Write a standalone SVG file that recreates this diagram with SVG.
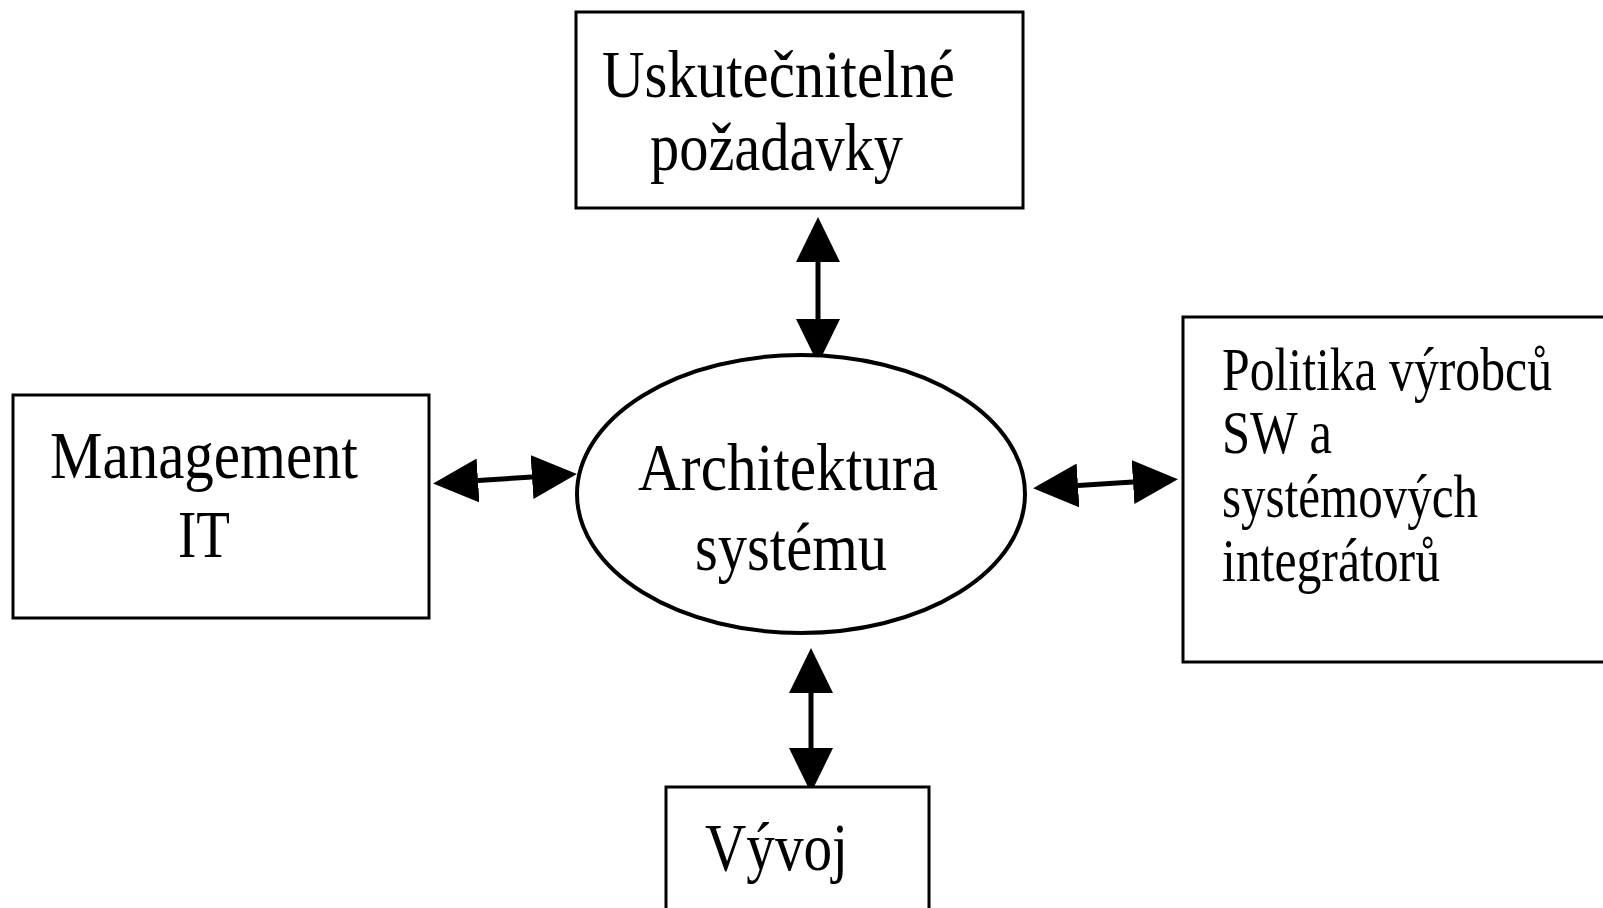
<svg xmlns="http://www.w3.org/2000/svg" width="1603" height="908" viewBox="0 0 1603 908">
  <style>
    .box { fill: #fff; stroke: #000; stroke-width: 3; }
    .oval { fill: #fff; stroke: #000; stroke-width: 4; }
    .lbl { font-family: "Liberation Serif", "Times New Roman", serif; font-size: 67px; fill: #000; }
    .lbl.sm { font-size: 62px; }
    .link { stroke: #000; stroke-width: 5; fill: none; marker-start: url(#head); marker-end: url(#head); }
  </style>
  <defs>
    <marker id="head" viewBox="0 0 45 44" refX="0" refY="22" markerWidth="45" markerHeight="44" markerUnits="userSpaceOnUse" orient="auto-start-reverse">
      <path d="M0,0 L45,22 L0,44 Z" fill="#000"/>
    </marker>
  </defs>
  <rect width="1603" height="908" fill="#fff"/>

  <!-- two-way links around the central oval -->
  <g id="connectors">
    <line class="link" x1="818" y1="262" x2="818" y2="319"/>
    <line class="link" x1="811" y1="693" x2="811" y2="748"/>
    <line class="link" x1="478" y1="480.5" x2="532" y2="477"/>
    <line class="link" x1="1078" y1="485.5" x2="1133" y2="482"/>
  </g>

  <g id="uskutecnitelne-pozadavky">
    <rect class="box" x="576" y="12" width="447" height="196"/>
    <text class="lbl" x="602" y="97" textLength="353" lengthAdjust="spacingAndGlyphs">Uskutečnitelné</text>
    <text class="lbl" x="650" y="170" textLength="253" lengthAdjust="spacingAndGlyphs">požadavky</text>
  </g>

  <g id="management-it">
    <rect class="box" x="13" y="395" width="416" height="223"/>
    <text class="lbl" x="50" y="478" textLength="308" lengthAdjust="spacingAndGlyphs">Management</text>
    <text class="lbl" x="178" y="557" textLength="52" lengthAdjust="spacingAndGlyphs">IT</text>
  </g>

  <g id="architektura-systemu">
    <ellipse class="oval" cx="801" cy="494" rx="224" ry="139"/>
    <text class="lbl" x="638" y="490" textLength="300" lengthAdjust="spacingAndGlyphs">Architektura</text>
    <text class="lbl" x="695" y="570" textLength="192" lengthAdjust="spacingAndGlyphs">systému</text>
  </g>

  <g id="politika-vyrobcu">
    <rect class="box" x="1183" y="317" width="430" height="345"/>
    <text class="lbl sm" x="1222" y="390" textLength="330" lengthAdjust="spacingAndGlyphs">Politika výrobců</text>
    <text class="lbl sm" x="1222" y="453" textLength="110" lengthAdjust="spacingAndGlyphs">SW a</text>
    <text class="lbl sm" x="1222" y="517" textLength="256" lengthAdjust="spacingAndGlyphs">systémových</text>
    <text class="lbl sm" x="1222" y="581" textLength="218" lengthAdjust="spacingAndGlyphs">integrátorů</text>
  </g>

  <g id="vyvoj">
    <rect class="box" x="666" y="787" width="263" height="140"/>
    <text class="lbl" x="705" y="870" textLength="143" lengthAdjust="spacingAndGlyphs">Vývoj</text>
  </g>
</svg>
